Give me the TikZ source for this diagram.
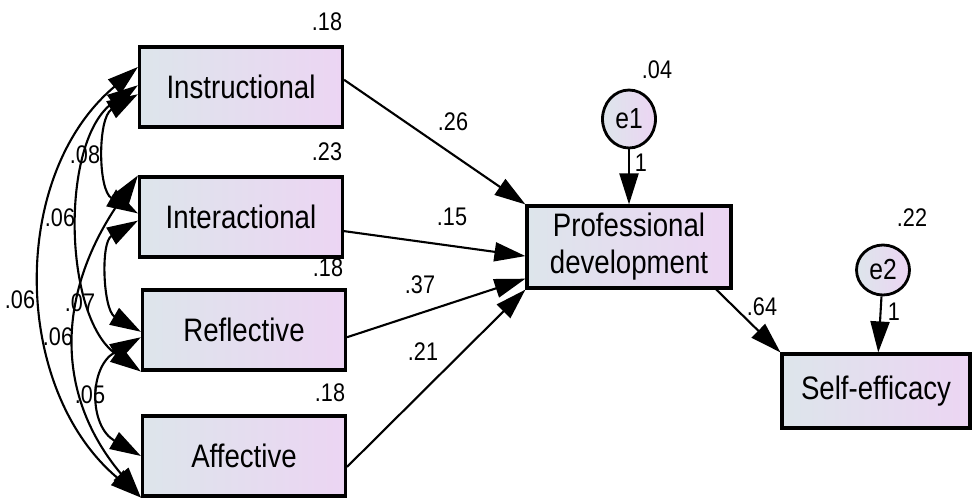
\documentclass[tikz,border=0pt]{standalone}
\usepackage{fontspec}
\setmainfont[FakeStretch=0.85]{Liberation Sans}
\usetikzlibrary{arrows.meta,shapes.geometric}
\definecolor{boxL}{RGB}{221,229,235}
\definecolor{boxR}{RGB}{236,213,243}

\begin{document}
\begin{tikzpicture}[
    x=0.02cm, y=0.02cm,
    var/.style={rectangle, draw, line width=1.8pt, left color=boxL,
                right color=boxR, align=center, inner sep=0pt,
                font=\fontsize{18.5}{21}\selectfont,
                minimum width=4.06cm, minimum height=1.6cm},
    err/.style={ellipse, draw, line width=1.6pt, left color=boxL,
                right color=boxR, inner sep=0pt,
                font=\fontsize{16.5}{18}\selectfont},
    lbl/.style={font=\fontsize{14.5}{16}\selectfont, inner sep=0pt},
    bighead/.tip={Triangle[length=0.62cm, width=0.38cm]},
    path/.style={-bighead, line width=1.2pt},
    cov/.style={bighead-bighead, line width=1.2pt}
]
\useasboundingbox (0,0) rectangle (972,-497);

% Variables observadas
\node[var] (inst)  at (241,-87)  {Instructional};
\node[var] (inter) at (241,-217) {Interactional};
\node[var] (refl)  at (244,-330) {Reflective};
\node[var] (aff)   at (244,-456) {Affective};

\node[var, minimum width=4.08cm, minimum height=1.64cm] (pd) at (629,-247)
    {Professional\\development};
\node[var, minimum width=3.76cm, minimum height=1.48cm] (se) at (876,-391)
    {Self-efficacy};

% Errores
\node[err, minimum width=1.06cm, minimum height=1.16cm] (e1) at (629,-119) {e1};
\node[err, minimum width=1.06cm, minimum height=1.0cm]  (e2) at (883,-270) {e2};

% Varianzas
\node[lbl] (v1) at (327,-22)  {.18};
\node[lbl] (v2) at (327,-152) {.23};
\node[lbl] (v3) at (328,-268) {.18};
\node[lbl] (v4) at (330,-393) {.18};
\node[lbl] (v5) at (657,-70)  {.04};
\node[lbl] (v6) at (912,-218) {.22};

% Trayectorias
\draw[path] (inst.4)  -- (pd.north west);
\draw[path] (inter)   -- (pd.185);
\draw[path] (refl.-4) -- (pd.197);
\draw[path] (aff.-6)  -- (pd.south west);
\draw[path] (pd.-26)  -- (se.north west);
\draw[path] (e1) -- (pd);
\draw[path] (e2) -- (se);

\node[lbl] (p1) at (453,-122) {.26};
\node[lbl] (p2) at (452,-217) {.15};
\node[lbl] (p3) at (420,-285) {.37};
\node[lbl] (p4) at (423,-352) {.21};
\node[lbl] (p5) at (762,-307) {.64};
\node[lbl] (w1) at (641,-163) {1};
\node[lbl] (w2) at (894,-312) {1};

% Covarianzas
\draw[cov] (inst.184) to[out=210, in=150] (inter.178);
\draw[cov] (inst.179) to[out=215, in=145, looseness=0.85] (refl.south west);
\draw[cov] (inst.169) to[out=220, in=140] (aff.south west);
\draw[cov] (inter.182) to[out=210, in=150] (refl.181);
\draw[cov] (inter.north west) to[out=235, in=130, looseness=1.1] (aff.south west);
\draw[cov] (refl.184) to[out=210, in=150, looseness=1.3] (aff.west);

\node[lbl] (c1) at (85,-155) {.08};
\node[lbl] (c2) at (60,-218) {.06};
\node[lbl] (c3) at (20,-300) {.06};
\node[lbl] (c4) at (80,-303) {.07};
\node[lbl] (c5) at (58,-337) {.06};
\node[lbl] (c6) at (90,-395) {.05};

\end{tikzpicture}
\end{document}
